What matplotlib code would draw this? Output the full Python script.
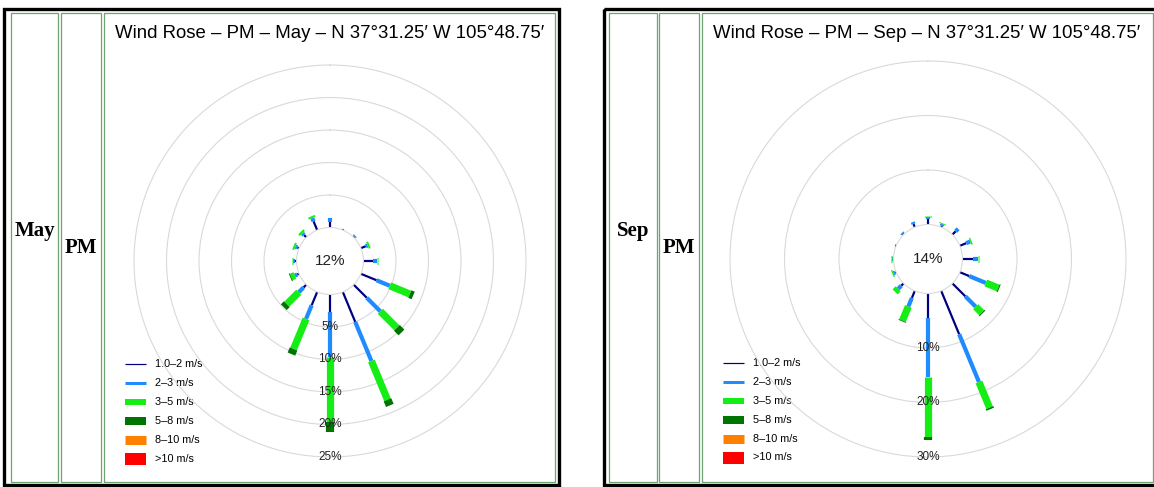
import numpy as np
import matplotlib
matplotlib.use('Agg')
import matplotlib.pyplot as plt
from matplotlib.patches import Rectangle

plt.rcParams['font.family'] = ['Liberation Sans', 'DejaVu Sans']

# 16 compass directions, clockwise from N
directions = ['N', 'NNE', 'NE', 'ENE', 'E', 'ESE', 'SE', 'SSE',
              'S', 'SSW', 'SW', 'WSW', 'W', 'WNW', 'NW', 'NNW']
speed_bins = ['1.0\u20132 m/s', '2\u20133 m/s', '3\u20135 m/s',
              '5\u20138 m/s', '8\u201310 m/s', '>10 m/s']
bin_colors = ['#000080', '#1e8cff', '#14ee14', '#007400', '#ff8000', '#ff0000']

# frequency (%) per direction for each speed bin
may_1_2 = [0.9, 0.15, 0.15, 0.8, 1.5, 2.6, 2.85, 5.0, 2.7, 2.2, 0.6, 0.3, 0.25, 0.3, 0.5, 1.45]
may_2_3 = [0.5, 0.0, 0.2, 0.3, 0.55, 2.2, 2.95, 6.5, 6.9, 2.3, 1.05, 0.4, 0.25, 0.3, 0.35, 0.55]
may_3_5 = [0.0, 0.0, 0.0, 0.3, 0.25, 3.35, 3.6, 6.45, 10.0, 5.0, 2.6, 0.6, 0.25, 0.3, 0.35, 0.3]
may_5_8 = [0.0, 0.0, 0.0, 0.0, 0.0, 0.55, 1.0, 0.95, 1.5, 0.85, 0.65, 0.15, 0.0, 0.0, 0.0, 0.0]
may_calm = 12

sep_1_2 = [1.05, 0.3, 0.85, 1.25, 1.9, 1.85, 3.35, 8.6, 4.45, 1.4, 0.6, 0.2, 0.1, 0.2, 0.2, 0.6]
sep_2_3 = [0.3, 0.3, 0.65, 0.8, 0.9, 3.3, 2.7, 9.5, 10.85, 1.7, 0.8, 0.3, 0.1, 0.0, 0.25, 0.4]
sep_3_5 = [0.15, 0.15, 0.0, 0.25, 0.2, 2.45, 1.55, 5.1, 11.1, 2.8, 0.8, 0.25, 0.2, 0.0, 0.0, 0.0]
sep_5_8 = [0.0, 0.0, 0.0, 0.0, 0.0, 0.2, 0.2, 0.3, 0.4, 0.15, 0.0, 0.0, 0.0, 0.0, 0.0, 0.0]
sep_calm = 14

may_rings = [5, 10, 15, 20, 25]
sep_rings = [10, 20, 30]

W, H = 1154, 487
fig = plt.figure(figsize=(W / 100, H / 100), dpi=100)
fig.patch.set_facecolor('white')

frame = fig.add_axes([0, 0, 1, 1])
frame.set_xlim(0, W)
frame.set_ylim(H, 0)
frame.axis('off')

bar_widths_px = [2.2, 4.2, 7.2, 8.2]
legend_heights_px = [1.2, 3, 6, 8, 9, 12]
grid_color = '#d9d9d9'


def draw_panel(x0, x1, cols, month, title, cx, cy, px_per_pct, r0, rmax,
               rings, calm, bins, leg_x, leg_y):
    # outer black box and green-lined cells
    frame.add_patch(Rectangle((x0, 9), x1 - x0, 476, fill=False, ec='black', lw=2.4))
    for a, b in cols:
        frame.add_patch(Rectangle((a, 13), b - a, 469, fill=False, ec='#6fa36f', lw=0.9))
    frame.text((cols[0][0] + cols[0][1]) / 2, 231, month, family='Liberation Serif',
               weight='bold', fontsize=15, ha='center', va='center')
    frame.text((cols[1][0] + cols[1][1]) / 2, 248, 'PM', family='Liberation Serif',
               weight='bold', fontsize=15, ha='center', va='center')
    frame.text(cols[2][0] + 11, 34, title, fontsize=13.4, ha='left', va='center')

    # legend
    for i, (lab, col) in enumerate(zip(speed_bins, bin_colors)):
        y = leg_y + i * 18.9
        frame.plot([leg_x, leg_x + 21], [y, y], color=col,
                   lw=legend_heights_px[i] * 0.72, solid_capstyle='butt')
        frame.text(leg_x + 30, y, lab, fontsize=7.8, ha='left', va='center')

    # rose
    R = (rmax + r0) * px_per_pct
    ax = fig.add_axes([(cx - R) / W, (H - cy - R) / H, 2 * R / W, 2 * R / H],
                      projection='polar')
    ax.set_theta_zero_location('N')
    ax.set_theta_direction(-1)
    ax.set_rorigin(-r0)
    ax.set_ylim(0, rmax)
    ax.patch.set_alpha(0)
    for s in ax.spines.values():
        s.set_visible(False)
    # inner spine is the calm circle, matplotlib turns it back on when drawing
    ax.spines['inner'].set_color(grid_color)
    ax.spines['inner'].set_linewidth(0.8)
    ax.set_xticks([])
    ax.set_yticks(rings)
    ax.set_yticklabels([])
    ax.yaxis.grid(True, color=grid_color, lw=0.8)

    theta = np.deg2rad(np.arange(16) * 22.5)
    base = np.zeros(16)
    for k, vals in enumerate(bins):
        vals = np.array(vals)
        for th, b0, v in zip(theta, base, vals):
            if v > 0:
                ax.plot([th, th], [b0, b0 + v], color=bin_colors[k],
                        lw=bar_widths_px[k] * 0.72, solid_capstyle='butt')
        base = base + vals

    for r in rings:
        ax.text(np.pi, r, f'{r}%', fontsize=8.5, color='#222222',
                ha='center', va='center', zorder=5)
    ax.text(0.5, 0.5, f'{calm}%', transform=ax.transAxes, fontsize=11,
            color='#222222', ha='center', va='center')


draw_panel(4, 559, [(11, 58), (61, 101), (104, 555)], 'May',
           'Wind Rose \u2013 PM \u2013 May \u2013 N 37\u00b031.25\u2032 W 105\u00b048.75\u2032',
           330, 261, 6.5, 5.15, 26.5, may_rings, may_calm,
           [may_1_2, may_2_3, may_3_5, may_5_8], 125, 364)

draw_panel(604, 1160, [(609, 657), (659, 699), (702, 1153)], 'Sep',
           'Wind Rose \u2013 PM \u2013 Sep \u2013 N 37\u00b031.25\u2032 W 105\u00b048.75\u2032',
           928, 259, 5.45, 6.33, 31.5, sep_rings, sep_calm,
           [sep_1_2, sep_2_3, sep_3_5, sep_5_8], 723, 363)

fig.savefig('out.png', dpi=100)
